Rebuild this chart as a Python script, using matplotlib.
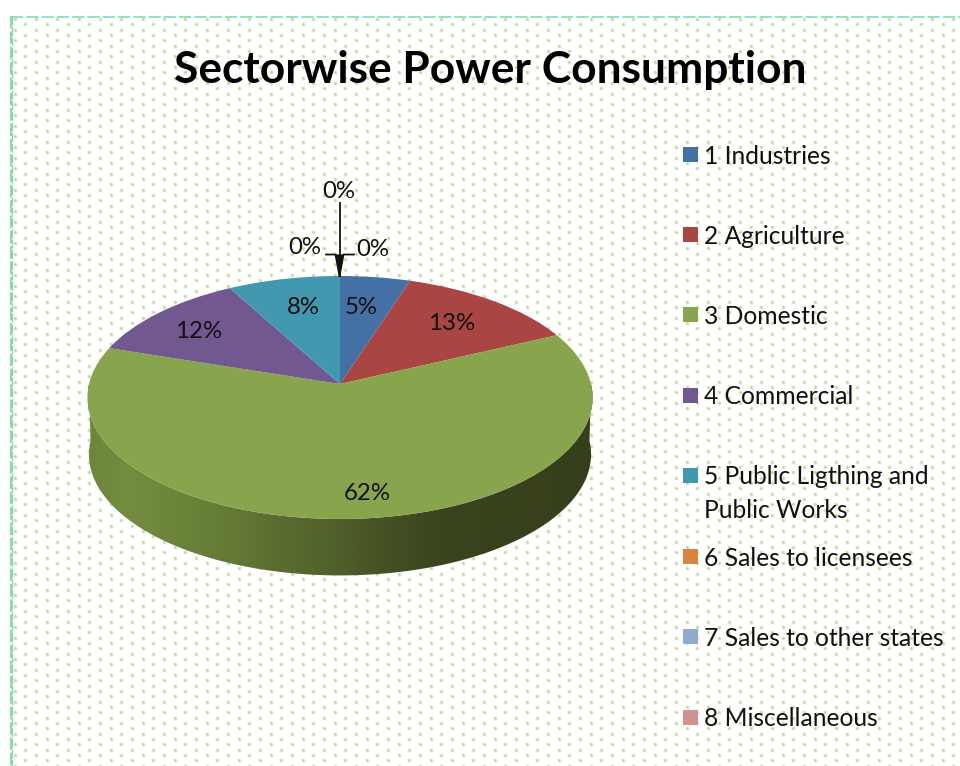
import numpy as np
import matplotlib
matplotlib.use("Agg")
import matplotlib.pyplot as plt
from matplotlib.path import Path
from matplotlib.patches import PathPatch, Rectangle
from matplotlib.transforms import Transform
from matplotlib.colors import LinearSegmentedColormap

title = "Sectorwise Power Consumption"
categories = ["1 Industries", "2 Agriculture", "3 Domestic", "4 Commercial",
              "5 Public Ligthing and\nPublic Works", "6 Sales to licensees",
              "7 Sales to other states", "8 Miscellaneous"]
values = [5, 13, 62, 12, 8, 0, 0, 0]
colors = ["#4470a6", "#a94543", "#88a44d", "#71588f", "#4198af", "#db843d", "#93a9cf", "#d19392"]

W, H = 960, 766
CX, CY, A, B, K, DEPTH = 340.0, 384.0, 251.0, 120.0, 0.111, 57.0
FONT = "Lato"
INK = "#111111"


class Perspective(Transform):
    """Unit-circle pie coordinates to tilted 3-D pixel coordinates."""
    input_dims = 2
    output_dims = 2
    is_separable = False

    def __init__(self, cy=CY, a=A, b=B):
        super().__init__()
        self.cy, self.a, self.b = cy, a, b

    def transform_non_affine(self, xy):
        xy = np.asarray(xy, float)
        w = 1 + K * xy[:, 1]
        return np.column_stack([CX + self.a * xy[:, 0] / w,
                                self.cy - self.b * xy[:, 1] / w])


fig = plt.figure(figsize=(W / 100, H / 100), dpi=100, facecolor="white")
ax = fig.add_axes([0, 0, 1, 1])

# dotted paper texture
rows = np.arange(19, H + 6, 16 / 3)
dx, dy = [], []
for j, yy in enumerate(rows):
    xs = np.arange(14.7 + (10.67 if j % 2 else 0), W + 6, 64 / 3)
    dx.extend(xs)
    dy.extend([yy] * len(xs))
ax.scatter(dx, dy, s=10, color="#edf5df", linewidths=0, zorder=1)
ax.scatter(dx, dy, s=3.6, color="#bfd99c", linewidths=0, zorder=1.1)

# dashed frame (top and left only are visible)
frame = "#7fd8a8"
ax.plot([11, W], [16.5, 16.5], color=frame, lw=1.1, dashes=(8, 2), zorder=2)
ax.plot([10.5, 10.5], [16, H], color=frame, lw=1.3, dashes=(7, 1.5), zorder=2)
ax.plot([12.3, 12.3], [16, H], color=frame, lw=0.9, dashes=(7, 1.5), zorder=2)

# side wall of the pie
t = np.linspace(np.pi, 2 * np.pi, 200)
ring = np.column_stack([np.cos(t), np.sin(t)])
lower = Perspective(CY + DEPTH, A - 1.5, B - 0.5).transform(ring)
upper = Perspective(CY, A, B).transform(ring)[::-1]
wall = Path(np.vstack([lower, upper, lower[:1]]))
wall_cmap = LinearSegmentedColormap.from_list("wall", [
    (0.00, "#6d8739"), (0.08, "#738c40"), (0.16, "#6d863b"), (0.28, "#647a35"),
    (0.40, "#586a2e"), (0.50, "#4f5f2a"), (0.62, "#414d22"), (0.72, "#39431d"),
    (1.00, "#363f1b")])
im = ax.imshow(np.linspace(0, 1, 512)[None, :], cmap=wall_cmap, aspect="auto",
               extent=[88, 593, 580, 380], zorder=3, interpolation="bilinear")
im.set_clip_path(PathPatch(wall, transform=ax.transData))

# top face of the pie
wedges, _ = ax.pie(values, colors=colors, startangle=90, counterclock=False,
                   radius=1, wedgeprops=dict(linewidth=0), normalize=True)
proj = Perspective()
for w in wedges:
    w.set_transform(proj + ax.transData)
    w.set_zorder(4)
    w.set_clip_on(False)

# data labels
label_pos = [(361, 308), (452, 323), (367, 493), (199, 331), (303, 308),
             (305, 247), (339, 191.5), (373, 249.5)]
for v, (lx, ly) in zip(values, label_pos):
    ax.text(lx, ly, f"{v}%", ha="center", va="center", fontsize=17.3,
            family=FONT, color=INK, zorder=6)

# leader lines for the empty slices
ax.plot([339.5, 339.5], [203, 276], color="#111111", lw=1.3, zorder=5)
ax.plot([326, 335.5, 339.5], [254.5, 254.5, 276], color="#111111", lw=1.3, zorder=5)
ax.plot([354, 343.5, 339.5], [254.5, 254.5, 276], color="#111111", lw=1.3, zorder=5)
ax.fill([335.5, 343.5, 339.5], [254.5, 254.5, 276], color="#111111", lw=0, zorder=5)

# title
ax.text(490, 70, title, ha="center", va="center", fontsize=31.9, fontweight="bold",
        family=FONT, color="black", zorder=6)

# legend
legend_y = [155, 235, 315, 396, 476, 557, 637, 718]
for name, col, ly in zip(categories, colors, legend_y):
    ax.add_patch(Rectangle((683, ly - 8), 15, 15, facecolor=col, edgecolor="none", zorder=6))
    ax.text(704, ly + 1, name.split("\n")[0], ha="left", va="center", fontsize=17.7,
            family=FONT, color=INK, zorder=6)
    if "\n" in name:
        ax.text(704, ly + 34, name.split("\n")[1], ha="left", va="center", fontsize=17.7,
                family=FONT, color=INK, zorder=6)

ax.set_aspect("auto")
ax.set_xlim(0, W)
ax.set_ylim(H, 0)
ax.axis("off")
fig.savefig("out.png", dpi=100, facecolor="white")
